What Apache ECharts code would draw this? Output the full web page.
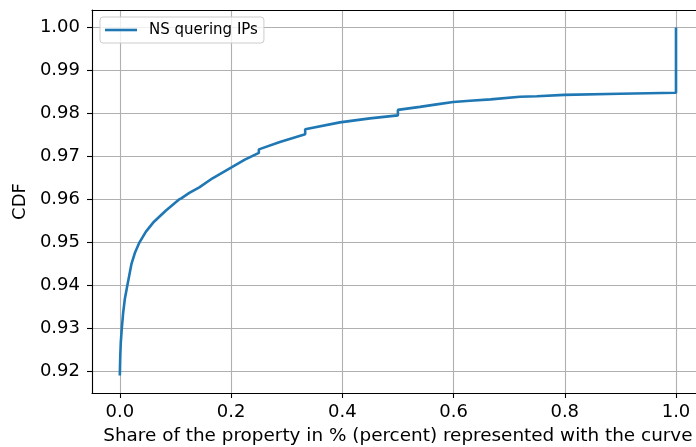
<!DOCTYPE html>
<html>
<head>
<meta charset="utf-8">
<script src="https://cdn.jsdelivr.net/npm/echarts@6/dist/echarts.min.js"></script>
<style>
html,body{margin:0;padding:0;background:#fff;}
#chart{width:696px;height:447px;}
</style>
</head>
<body>
<div id="chart"></div>
<script>
// Data
const seriesName = "NS quering IPs";
const xShare = [0, 0.0008, 0.0018, 0.0036, 0.0060, 0.0090, 0.0136, 0.0210, 0.0270, 0.0354, 0.0470, 0.0600, 0.0830, 0.1070, 0.1111, 0.1111, 0.1250, 0.1250, 0.1429, 0.1429, 0.1667, 0.1667, 0.2000, 0.2000, 0.2248, 0.2500, 0.2500, 0.2878, 0.3333, 0.3333, 0.3957, 0.4496, 0.5000, 0.5000, 0.5396, 0.5696, 0.5995, 0.6295, 0.6667, 0.6667, 0.7194, 0.7500, 0.7500, 0.7991, 0.8993, 1.0000, 1.0000];
const cdfValues = [0.91900, 0.92350, 0.92680, 0.93000, 0.93360, 0.93680, 0.94000, 0.94500, 0.94750, 0.95000, 0.95250, 0.95460, 0.95740, 0.96000, 0.96030, 0.96060, 0.96150, 0.96180, 0.96280, 0.96320, 0.96490, 0.96530, 0.96740, 0.96770, 0.96925, 0.97080, 0.97163, 0.97333, 0.97512, 0.97630, 0.97791, 0.97884, 0.97953, 0.98081, 0.98151, 0.98209, 0.98263, 0.98295, 0.98326, 0.98360, 0.98388, 0.98400, 0.98410, 0.98430, 0.98458, 0.98481, 1.00000];
const xTitle = "Share of the property in % (percent) represented with the curve";
const yTitle = "CDF";

const points = xShare.map((x, i) => [x, cdfValues[i]]);
const FONT = "DejaVu Sans";
const FS = 18;

const axisBase = {
  axisLine: {show: true, onZero: false, lineStyle: {color: '#000', width: 1.1}},
  axisTick: {show: true, inside: false, length: 5, lineStyle: {color: '#000', width: 1.1}},
  splitLine: {show: true, lineStyle: {color: '#b0b0b0', width: 1.1}}
};

const chart = echarts.init(document.getElementById('chart'), null, {renderer: 'canvas'});
chart.setOption({
  animation: false,
  backgroundColor: '#fff',
  grid: {left: 92, top: 10, right: -7.8, bottom: 54, show: false, containLabel: false, outerBoundsMode: 'none'},
  legend: {
    show: true,
    left: 100, top: 17,
    orient: 'vertical',
    icon: 'rect',
    itemWidth: 32, itemHeight: 2.6,
    padding: [4, 6, 4, 5],
    borderColor: '#cccccc', borderWidth: 1, borderRadius: 3,
    backgroundColor: 'rgba(255,255,255,0.8)',
    textStyle: {fontFamily: FONT, fontSize: 15, color: '#000', lineHeight: 18, padding: [0, 0, 0, 7]},
    data: [{name: seriesName}]
  },
  xAxis: [{
    type: 'value',
    position: 'bottom',
    min: -0.05, max: 1.05,
    splitNumber: 5,
    name: xTitle,
    nameLocation: 'middle',
    nameGap: 34.5,
    nameTextStyle: {fontFamily: FONT, fontSize: 18.4, color: '#000'},
    axisLine: axisBase.axisLine,
    axisTick: axisBase.axisTick,
    splitLine: axisBase.splitLine,
    axisLabel: {
      show: true, margin: 10, fontFamily: FONT, fontSize: FS, color: '#000',
      showMinLabel: false, showMaxLabel: false,
      formatter: v => v.toFixed(1)
    }
  }, {
    type: 'value',
    position: 'top',
    min: -0.05, max: 1.05,
    axisLine: {show: true, onZero: false, lineStyle: {color: '#000', width: 1.1}},
    axisTick: {show: false},
    axisLabel: {show: false},
    splitLine: {show: false}
  }],
  yAxis: {
    type: 'value',
    min: 0.91495, max: 1.00405,
    splitNumber: 9,
    name: yTitle,
    nameLocation: 'middle',
    nameGap: 63,
    nameRotate: 90,
    nameTextStyle: {fontFamily: FONT, fontSize: FS, color: '#000'},
    axisLine: axisBase.axisLine,
    axisTick: axisBase.axisTick,
    splitLine: axisBase.splitLine,
    axisLabel: {
      show: true, margin: 12, fontFamily: FONT, fontSize: FS, color: '#000',
      showMinLabel: false, showMaxLabel: false,
      formatter: v => v.toFixed(2)
    }
  },
  series: [{
    name: seriesName,
    type: 'line',
    xAxisIndex: 0,
    data: points,
    showSymbol: false,
    symbol: 'none',
    clip: true,
    lineStyle: {color: '#1f77b4', width: 2.6},
    itemStyle: {color: '#1f77b4'}
  }]
});
</script>
</body>
</html>
